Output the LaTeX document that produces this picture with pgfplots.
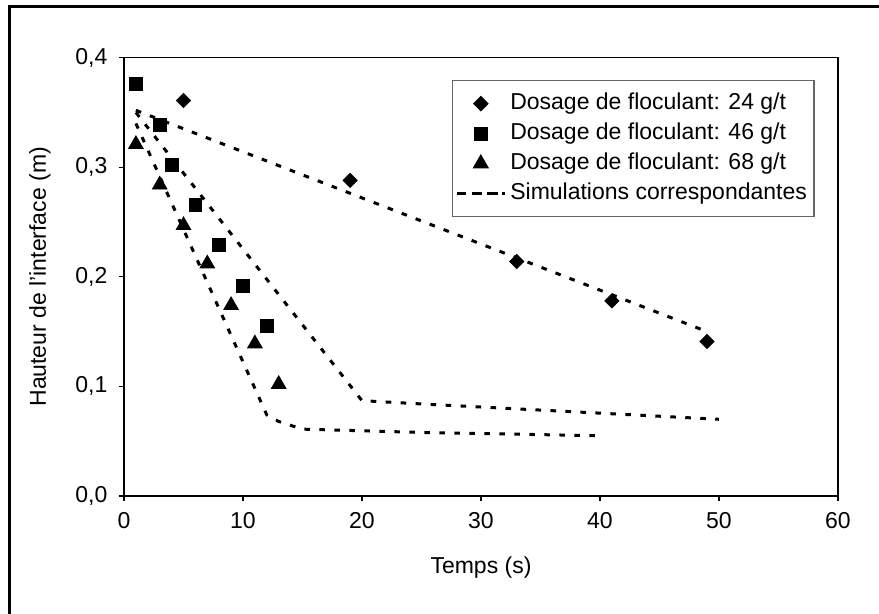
\documentclass[border=0pt]{standalone}
\usepackage{fontspec}
\setmainfont{Liberation Sans}
\usepackage{pgfplots}
\pgfplotsset{compat=1.18}
\begin{document}
\begin{tikzpicture}
\useasboundingbox (-62pt,-59pt) rectangle (377.5pt,248pt);
\draw[line width=1.5pt] (-57.25pt,-70pt) -- (-57.25pt,244.75pt) -- (390pt,244.75pt);
\begin{axis}[
  scale only axis, width=357pt, height=219.15pt,
  xmin=0, xmax=60, ymin=0, ymax=0.4,
  xtick={0,10,20,30,40,50,60}, ytick={0,0.1,0.2,0.3,0.4},
  tick align=outside, tick pos=left, major tick length=2.5pt,
  axis line style={line width=0.8pt},
  every tick/.style={black, line width=0.6pt},
  /pgf/number format/assume math mode=true,
  tick label style={font=\fontsize{11.5}{13.5}\selectfont},
  yticklabel style={/pgf/number format/fixed, /pgf/number format/precision=1,
    /pgf/number format/fixed zerofill, /pgf/number format/use comma, xshift=-2.3pt},
  xticklabel style={yshift=-2pt},
  label style={font=\fontsize{11.5}{13.5}\selectfont},
  xlabel={Temps (s)},
  ylabel={Hauteur de l'interface (m)},
  xlabel style={at={([yshift=-36pt]axis description cs:0.5,0)}, anchor=center},
  ylabel style={at={([xshift=-42pt]axis description cs:0,0.5)}, anchor=center},
  legend style={at={(axis description cs:0.459,0.949)}, anchor=north west,
    draw=gray!80!black, line width=0.6pt, inner xsep=1.5pt, inner ysep=4pt,
    font=\fontsize{11.5}{13.5}\selectfont,
    nodes={inner ysep=2pt, text height=8.5pt, text depth=2.5pt},
    cells={anchor=west}},
  legend image code/.code={\draw[#1, mark repeat=2, mark phase=2] plot coordinates {(0pt,0pt) (12pt,0pt) (24pt,0pt)};},
]
\addplot[only marks, mark=square*, mark size=2.5pt, mark options={rotate=45}, black] coordinates {
  (5,0.361) (19,0.288) (33,0.214) (41,0.178) (49,0.141)};
\addlegendentry{Dosage de floculant: 24 g/t}
\addplot[only marks, mark=square*, mark size=3.2pt, black] coordinates {
  (1,0.376) (3,0.339) (4,0.302) (6,0.266) (8,0.229) (10,0.192) (12,0.155)};
\addlegendentry{Dosage de floculant: 46 g/t}
\addplot[only marks, mark=triangle*, mark size=4.2pt, black] coordinates {
  (1,0.321) (3,0.284) (5,0.247) (7,0.212) (9,0.174) (11,0.139) (13,0.102)};
\addlegendentry{Dosage de floculant: 68 g/t}
\addplot[black, line width=1.5pt, dash pattern=on 2.8pt off 4.7pt,
  legend image code/.code={\path (0pt,0pt) -- (24pt,0pt); \draw[black, line width=1.3pt, dash pattern=on 3.5pt off 4.5pt] (1pt,0pt) -- (21pt,0pt);}] coordinates {
  (1,0.352) (49,0.150)};
\addlegendentry{Simulations correspondantes}
\addplot[black, line width=1.5pt, dash pattern=on 2.8pt off 4.7pt, forget plot] coordinates {
  (1,0.350) (20,0.087) (25,0.084) (50,0.070)};
\addplot[black, line width=1.5pt, dash pattern=on 2.8pt off 4.7pt, forget plot] coordinates {
  (1,0.340) (12,0.074) (13,0.068) (15,0.061) (25,0.058) (40,0.055)};
\end{axis}
\end{tikzpicture}
\end{document}
